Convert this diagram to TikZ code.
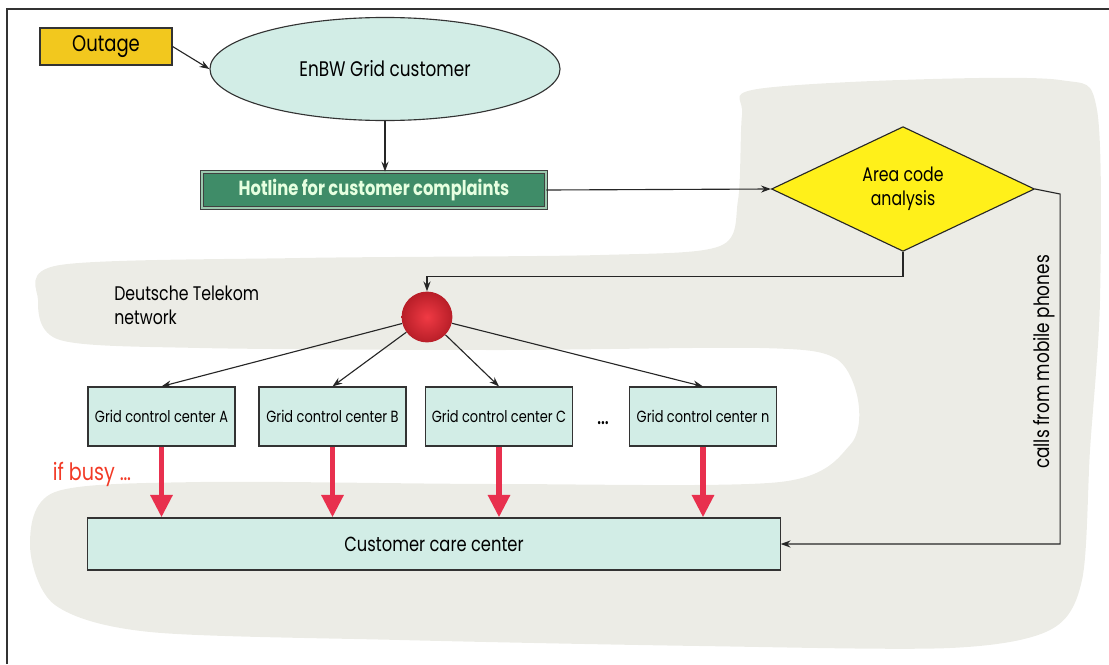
\documentclass[tikz,border=0pt]{standalone}
\usepackage{fontspec}
\setmainfont{Poppins}[FakeStretch=0.8]
\usetikzlibrary{shapes.geometric,arrows.meta}
\definecolor{outageyellow}{HTML}{F2C81E}
\definecolor{paleteal}{HTML}{D2EDE6}
\definecolor{hotgreen}{HTML}{3F8C68}
\definecolor{hotedge}{HTML}{9CC9AE}
\definecolor{hottext}{HTML}{E6FFE0}
\definecolor{areayellow}{HTML}{FFF01A}
\definecolor{busyred}{HTML}{E8304E}
\definecolor{busytext}{HTML}{F23A26}
\definecolor{blobgray}{HTML}{ECECE6}
\definecolor{netred}{HTML}{F03A44}
\definecolor{netdark}{HTML}{B81E28}
\begin{document}
\begin{tikzpicture}[x=0.025cm,y=-0.025cm,>={Stealth[length=7pt,width=5pt]},
    flow/.style={->,line width=0.8pt,black!85},
    busy/.style={-{Triangle[width=15pt,length=16pt]},line width=4pt,busyred},
    box/.style={draw=black!80,line width=0.8pt,fill=paleteal,inner sep=0pt},
    gridbox/.style={box,minimum width=3.675cm,minimum height=1.475cm,font=\fontsize{11.5}{13}\selectfont}]
    \useasboundingbox (0,0) rectangle (1109,664);
    %% background
    \fill[blobgray] plot[smooth cycle,tension=0.5] coordinates {(752,90) (900,80) (1060,80) (1097,110)
        (1100,300) (1090,450) (1082,580) (1050,630) (950,648) (700,646) (400,640) (150,632)
        (55,605) (30,545) (55,492) (200,482) (500,484) (780,482) (850,445) (858,400) (835,358)
        (760,348) (500,350) (200,348) (60,340) (38,300) (60,265) (300,258) (600,255) (720,246)
        (738,200) (742,115)};
    \draw[black!80,line width=0.9pt] (7,664) -- (7,9) -- (1109,9);
    %% top part
    \node[draw=black!80,line width=0.8pt,fill=outageyellow,minimum width=3.3cm,minimum height=0.925cm,
        inner sep=0pt,font=\fontsize{16}{18}\selectfont] (outage) at (106,46.5) {Outage};
    \node[ellipse,box,minimum width=8.75cm,minimum height=2.575cm,
        font=\fontsize{15}{18}\selectfont] (cust) at (385,69) {EnBW Grid customer};
    \node[draw=black!75,line width=0.6pt,double=hotedge,double distance=1.4pt,fill=hotgreen,text=hottext,
        minimum width=8.6cm,minimum height=0.9cm,inner sep=0pt,
        font=\bfseries\fontsize{14.5}{16}\selectfont] (hot) at (374,190) {Hotline for customer complaints};
    \node[diamond,draw=black!85,line width=0.8pt,fill=areayellow,minimum width=6.575cm,minimum height=2.825cm,
        inner sep=0pt,align=center,font=\fontsize{14}{17}\selectfont] (area) at (903,189) {Area code\\analysis};
    %% network
    \node[circle,inner color=netred,outer color=netdark,minimum size=1.27cm,inner sep=0pt] (net) at (427,317) {};
    \node[anchor=north west,align=left,inner sep=0pt,font=\fontsize{14}{17}\selectfont]
        (netlabel) at (114,286) {Deutsche Telekom\\network};
    \node[gridbox] (gridA) at (161.5,416.5) {Grid control center A};
    \node[gridbox] (gridB) at (332.5,416.5) {Grid control center B};
    \node[gridbox] (gridC) at (499,416.5) {Grid control center C};
    \node[gridbox] (gridN) at (703,416.5) {Grid control center n};
    \node[font=\fontsize{18}{20}\selectfont] (dots) at (603,423) {\dots};
    \node[box,minimum width=17.3cm,minimum height=1.3cm,font=\fontsize{14.5}{17}\selectfont]
        (care) at (434,544) {Customer care center};
    \node[text=busytext,font=\fontsize{17}{20}\selectfont] (busylabel) at (92,474) {if busy \dots};
    \node[rotate=90,font=\fontsize{15}{17}\selectfont] (mobile) at (1044,362) {calls from mobile phones};
    %% connectors
    \draw[flow] (outage.east) -- (cust.west);
    \draw[flow] (cust.south) -- (cust.south |- hot.north);
    \draw[flow] (hot.east) -- (area.west);
    \draw[flow] (area.south) -- ++(0,25) -| (net.north);
    \draw[flow] (area.east) -- ++(25,5) |- (care.east);
    \foreach \g in {gridA,gridB,gridC,gridN} {
        \draw[flow] (net) -- (\g.north);
        \draw[busy] (\g.south) -- (\g.south |- care.north);
    }
\end{tikzpicture}
\end{document}
